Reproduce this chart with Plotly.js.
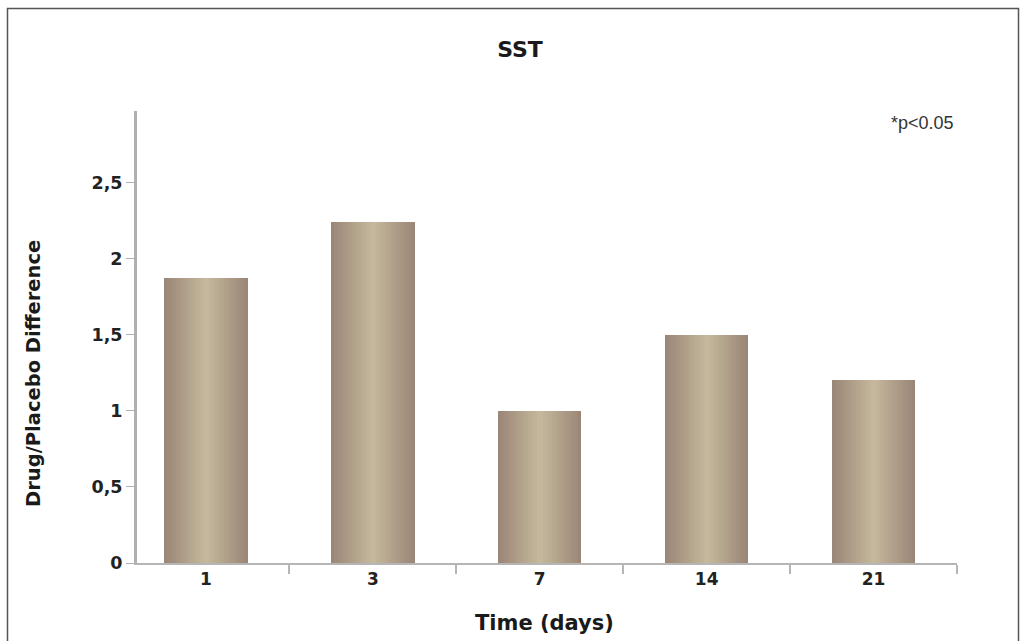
<!DOCTYPE html>
<html>
<head>
<meta charset="utf-8">
<script src="https://cdn.plot.ly/plotly-3.0.1.min.js"></script>
<style>
html,body{margin:0;padding:0;background:#fff;}
#chart{width:1023px;height:641px;}
#chart .bars path{shape-rendering:crispEdges;}
</style>
</head>
<body>
<div id="chart"></div>
<script>
// Data
const categories = ['1', '3', '7', '14', '21'];
const values = [1.87, 2.24, 1.0, 1.5, 1.2];
const yTickVals = [0, 0.5, 1, 1.5, 2, 2.5];
const yTickText = ['0', '0,5', '1', '1,5', '2', '2,5'];

// Style helpers
const boldFont = 'DejaVu Sans, sans-serif';
const edge = [155, 135, 120];
const center = [196, 183, 155];
const nLayers = 14;
const fullWidth = 0.5;

function lerpColor(a, b, t) {
  return 'rgb(' + a.map((v, i) => Math.round(v + (b[i] - v) * t)).join(',') + ')';
}

// Simulated horizontal gradient: stacked overlay bars of shrinking width
const traces = [];
for (let k = 0; k < nLayers; k++) {
  const t = k / (nLayers - 1);
  traces.push({
    type: 'bar',
    x: categories,
    y: values,
    width: fullWidth * (1 - k / nLayers),
    marker: { color: lerpColor(edge, center, t), line: { width: 0 } },
    hoverinfo: k === 0 ? 'x+y' : 'skip',
    showlegend: false
  });
}

const layout = {
  width: 1023,
  height: 641,
  margin: { l: 137, r: 66, t: 111, b: 78 },
  paper_bgcolor: '#ffffff',
  plot_bgcolor: '#ffffff',
  barmode: 'overlay',
  separators: ',.',
  showlegend: false,
  title: {
    text: '<b>SST</b>',
    font: { family: boldFont, size: 22, color: '#1a1a1a' },
    xref: 'container', x: 520 / 1023, xanchor: 'center',
    yref: 'container', y: 1 - 49 / 641, yanchor: 'middle'
  },
  xaxis: {
    type: 'category',
    range: [-0.413, 4.5],
    showline: true,
    linecolor: '#b5b5b5',
    linewidth: 2,
    ticks: 'outside',
    tickson: 'boundaries',
    ticklen: 9,
    tickwidth: 2,
    tickcolor: '#b5b5b5',
    showgrid: false,
    zeroline: false,
    tickfont: { family: boldFont, size: 17, color: '#222', weight: 'bold' },
    fixedrange: true
  },
  yaxis: {
    range: [0, 2.97],
    showline: true,
    linecolor: '#b0b0b0',
    linewidth: 3,
    ticks: 'outside',
    ticklen: 8,
    tickwidth: 1,
    tickcolor: '#b0b0b0',
    tickvals: yTickVals,
    ticktext: yTickText,
    showgrid: false,
    zeroline: false,
    tickfont: { family: boldFont, size: 17.5, color: '#222', weight: 'bold' },
    fixedrange: true
  },
  annotations: [
    {
      text: '<b>Time (days)</b>',
      xref: 'paper', x: (544 - 137) / 820, xanchor: 'center',
      yref: 'paper', y: (563 - 623) / 452, yanchor: 'middle',
      showarrow: false,
      font: { family: boldFont, size: 21, color: '#1a1a1a' }
    },
    {
      text: '<b>Drug/Placebo Difference</b>',
      textangle: -90,
      xref: 'paper', x: (33 - 137) / 820, xanchor: 'center',
      yref: 'paper', y: (563 - 374) / 452, yanchor: 'middle',
      showarrow: false,
      font: { family: boldFont, size: 19.5, color: '#1a1a1a' }
    },
    {
      text: '*p&lt;0.05',
      xref: 'paper', x: (922 - 137) / 820, xanchor: 'center',
      yref: 'paper', y: (563 - 123) / 452, yanchor: 'middle',
      showarrow: false,
      font: { family: 'Liberation Sans, Arial, sans-serif', size: 18, color: '#333' }
    }
  ],
  shapes: [
    {
      type: 'rect', layer: 'above',
      xref: 'paper', yref: 'paper',
      x0: (7.5 - 137) / 820, x1: (1018.5 - 137) / 820,
      y0: (563 - 660) / 452, y1: (563 - 8.5) / 452,
      line: { color: '#555', width: 1.5 },
      fillcolor: 'rgba(0,0,0,0)'
    }
  ]
};

Plotly.newPlot('chart', traces, layout, { displayModeBar: false, staticPlot: true });
</script>
</body>
</html>
